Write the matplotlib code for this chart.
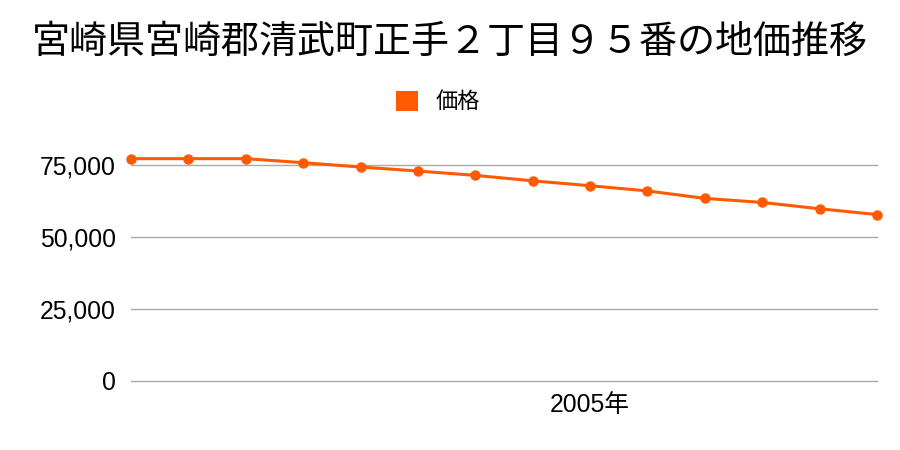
import matplotlib
matplotlib.use("Agg")
import matplotlib.pyplot as plt
from matplotlib.ticker import FuncFormatter
from matplotlib.patches import Patch

plt.rcParams['font.family'] = ['Liberation Sans', 'Noto Sans CJK JP']

years = list(range(1997, 2011))
prices = [77200, 77200, 77200, 75800, 74300, 72900, 71400,
          69500, 67800, 66000, 63400, 62000, 59800, 57800]
yticks = [0, 25000, 50000, 75000]
xticks = [2005]
xtick_labels = ["2005年"]

COLOR = "#ff5a00"

fig = plt.figure(figsize=(9, 4.5), dpi=100)
ax = fig.add_axes([131 / 900, 1 - 381 / 450, (877 - 131) / 900, (381 - 129) / 450])

ax.plot(years, prices, color=COLOR, linewidth=2.2, marker="o", markersize=6.5,
        clip_on=False, zorder=3)

ax.set_xlim(years[0], years[-1])
ax.set_ylim(0, 87500)
ax.set_yticks(yticks)
ax.yaxis.set_major_formatter(FuncFormatter(lambda v, p: f"{int(v):,}"))
ax.set_xticks(xticks)
ax.set_xticklabels(xtick_labels)
ax.tick_params(axis="both", length=0, labelsize=17.8)
ax.tick_params(axis="x", pad=9)
ax.tick_params(axis="y", pad=11)
ax.grid(axis="y", color="#aaaaaa", linewidth=1)
for gl in ax.get_ygridlines():
    gl.set_clip_on(False)
ax.set_axisbelow(True)
for s in ax.spines.values():
    s.set_visible(False)

fig.text(0.5, 0.905, "宮崎県宮崎郡清武町正手２丁目９５番の地価推移", ha="center",
         va="center", fontsize=27.4, family=["Noto Sans CJK JP"])
fig.legend(handles=[Patch(facecolor=COLOR, label="価格")], loc="center",
           bbox_to_anchor=(0.487, 0.773), frameon=False, fontsize=16,
           handlelength=1.0, handleheight=1.0, handletextpad=0.8)

fig.savefig("out.png", dpi=100)
